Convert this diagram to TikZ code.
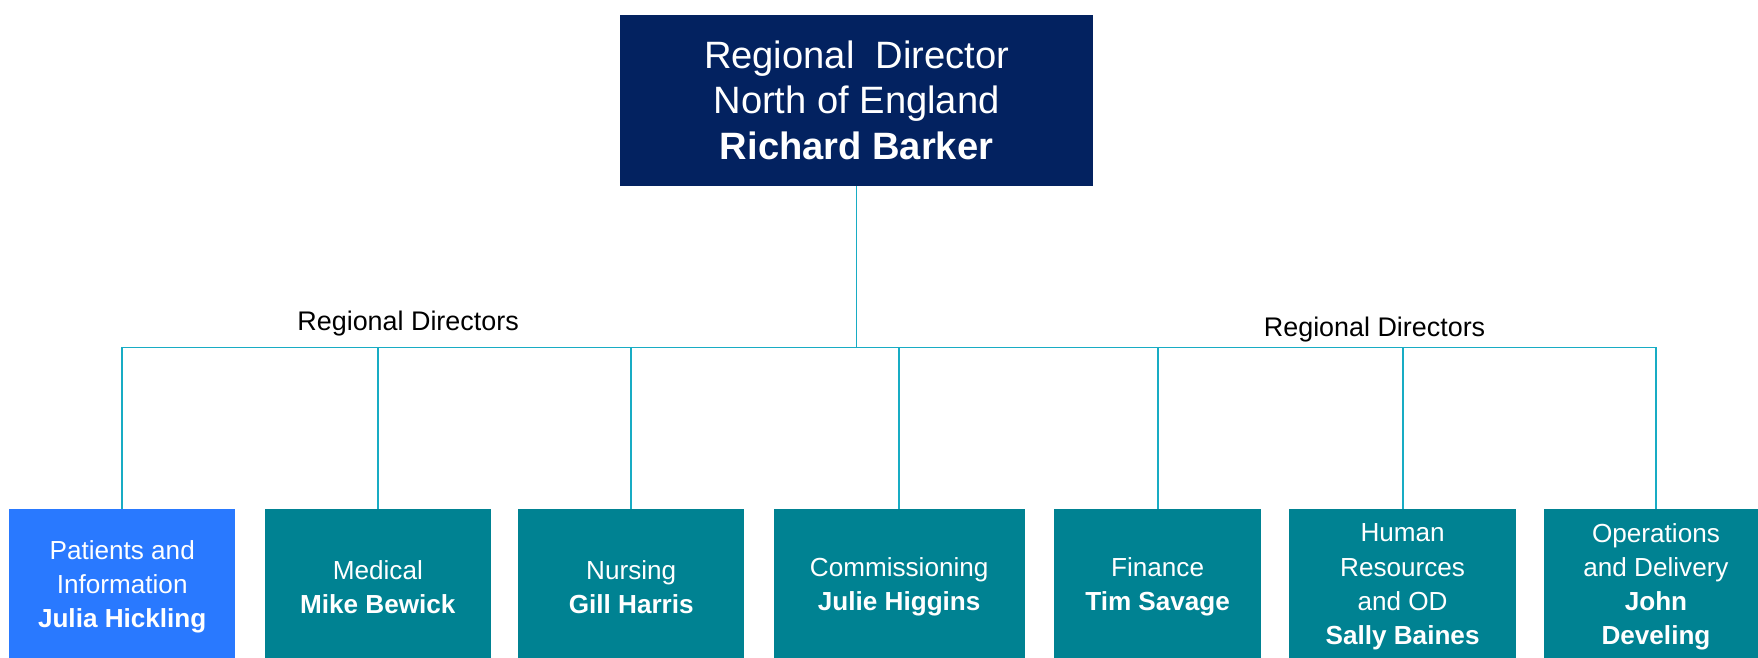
\documentclass[tikz,border=0pt]{standalone}
\usepackage{fontspec}
\setmainfont{Liberation Sans}
\usetikzlibrary{positioning}
\definecolor{navy}{RGB}{3,34,96}
\definecolor{teal}{RGB}{0,130,146}
\definecolor{brightblue}{RGB}{41,121,255}
\definecolor{linkcyan}{RGB}{24,172,196}

\begin{document}
\begin{tikzpicture}[x=1pt,y=-1pt,head/.style={fill=navy,text=white,minimum width=422pt,minimum height=153pt,inner sep=0pt,align=center,font=\fontsize{34}{41}\selectfont},dept/.style={fill=teal,text=white,minimum height=139pt,inner sep=0pt,align=center,font=\fontsize{23.3}{30.5}\selectfont},link/.style={draw=linkcyan,line width=1.6pt}]

\useasboundingbox (0,0) rectangle (1568,586);

\node[head] (top) at(764,89.5) {Regional\ \ Director\\North of England\\\textbf{Richard Barker}};

\node[dept,minimum width=202pt,fill=brightblue] (pi) at(109,523.5) {Patients and\\Information\\\textbf{Julia Hickling}};
\node[dept,minimum width=202pt] (med) at(337,523.5) {Medical\\\textbf{Mike Bewick}};
\node[dept,minimum width=202pt] (nur) at(563,523.5) {Nursing\\\textbf{Gill Harris}};
\node[dept,minimum width=224pt] (com) at(802,523.5) {Commissioning\\\textbf{Julie Higgins}};
\node[dept,minimum width=185pt] (fin) at(1032.5,523.5) {Finance\\\textbf{Tim Savage}};
\node[dept,minimum width=202pt] (hr) at(1251,523.5) {Human\\Resources\\and OD\\\textbf{Sally Baines}};
\node[dept,minimum width=200pt] (ops) at(1477,523.5) {Operations\\and Delivery\\\textbf{John}\\\textbf{Develing}};

\coordinate (bus) at(764,310);
\draw[link] (top.south)--(bus);
\foreach \d in {pi,med,nur,com,fin,hr,ops}
  \draw[link] (bus) -| (\d.north);

\node[font=\fontsize{24}{28}\selectfont] (lbla) at(364,289) {Regional Directors};
\node[font=\fontsize{24}{28}\selectfont] (lblb) at(1226,294) {Regional Directors};
\end{tikzpicture}
\end{document}
